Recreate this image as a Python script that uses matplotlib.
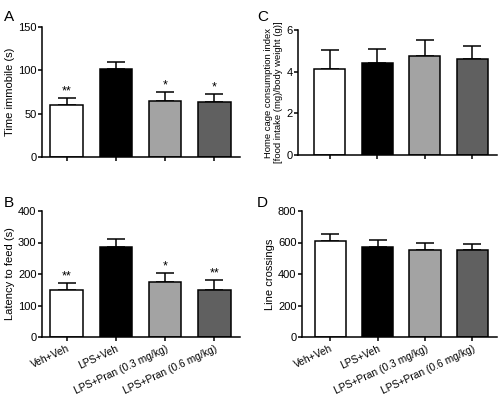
import matplotlib
matplotlib.use("Agg")
import matplotlib.pyplot as plt
import numpy as np

groups = ["Veh+Veh", "LPS+Veh", "LPS+Pran (0.3 mg/kg)", "LPS+Pran (0.6 mg/kg)"]
colors = ["white", "black", "#a3a3a3", "#606060"]

# panel A - forced swim
immobile = [60, 102, 65, 64]
immobile_err = [8, 8, 10, 9]
immobile_sig = ["**", "", "*", "*"]

# panel B - novelty induced hypophagia
latency = [150, 287, 175, 150]
latency_err = [20, 23, 28, 32]
latency_sig = ["**", "", "*", "**"]

# panel C - home cage consumption
homecage = [4.15, 4.4, 4.75, 4.6]
homecage_err = [0.87, 0.7, 0.77, 0.62]

# panel D - open field
crossings = [612, 572, 555, 555]
crossings_err = [43, 45, 42, 38]

plt.rcParams['font.family'] = ['Liberation Sans', 'DejaVu Sans']

fig = plt.figure(figsize=(5, 4), dpi=100)


def draw_panel(rect, vals, errs, ylabel, ylim, yticks, sig=None, show_x=False,
               xleft=-0.5, ylabel_size=8):
    ax = fig.add_axes(rect)
    x = np.arange(len(vals))
    ax.bar(x, vals, width=0.66, color=colors, edgecolor="black", linewidth=1.1, zorder=2)
    ax.errorbar(x, vals, yerr=[np.zeros(len(errs)), errs], fmt="none", ecolor="black",
                elinewidth=1.1, capsize=6.5, capthick=1.1, zorder=1)
    if sig:
        for xi, v, e, s in zip(x, vals, errs, sig):
            if s:
                ax.text(xi, v + e + ylim[1] * 0.005, s, ha="center", va="bottom", fontsize=9)
    ax.set_xlim(xleft, 3.52)
    ax.set_ylim(*ylim)
    ax.set_yticks(yticks)
    ax.set_xticks(x)
    ax.spines["top"].set_visible(False)
    ax.spines["right"].set_visible(False)
    for s in ["left", "bottom"]:
        ax.spines[s].set_linewidth(1.1)
    ax.tick_params(axis="y", labelsize=8, length=3, width=1.1, pad=1)
    ax.tick_params(axis="x", length=3, width=1.1, labelsize=7.4, pad=1.5)
    if show_x:
        ax.set_xticklabels(groups, rotation=25, ha="right", rotation_mode="anchor")
    else:
        ax.set_xticklabels([])
    ax.set_ylabel(ylabel, fontsize=ylabel_size, labelpad=2)
    return ax


draw_panel([0.084, 0.6075, 0.396, 0.325], immobile, immobile_err, "Time immobile (s)",
           (0, 150), [0, 50, 100, 150], sig=immobile_sig)
draw_panel([0.084, 0.1575, 0.396, 0.315], latency, latency_err, "Latency to feed (s)",
           (0, 400), [0, 100, 200, 300, 400], sig=latency_sig, show_x=True)
draw_panel([0.596, 0.6125, 0.398, 0.3125], homecage, homecage_err,
           "Home cage consumption index\n[food intake (mg)/body weight (g)]",
           (0, 6), [0, 2, 4, 6], xleft=-0.67, ylabel_size=6.8)
draw_panel([0.604, 0.1575, 0.39, 0.315], crossings, crossings_err, "Line crossings",
           (0, 800), [0, 200, 400, 600, 800], show_x=True, xleft=-0.6)

fig.text(0.008, 0.975, "A", fontsize=11, va="top")
fig.text(0.514, 0.975, "C", fontsize=11, va="top")
fig.text(0.008, 0.51, "B", fontsize=11, va="top")
fig.text(0.514, 0.51, "D", fontsize=11, va="top")

fig.savefig("out.png", dpi=100)
